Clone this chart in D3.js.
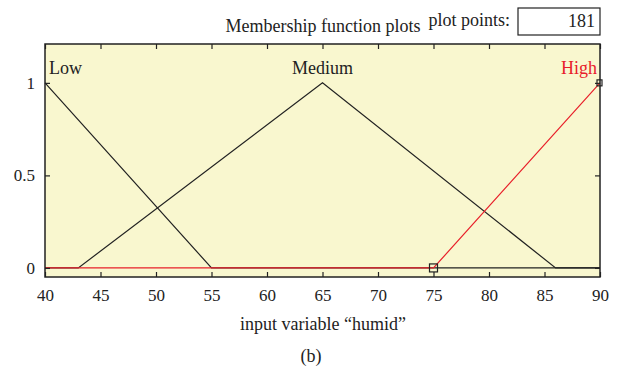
<!DOCTYPE html>
<html>
<head>
<meta charset="utf-8">
<script src="https://cdn.jsdelivr.net/npm/d3@7"></script>
<style>
body { margin: 0; background: #fff; }
text { font-family: "Liberation Serif", "DejaVu Serif", serif; }
</style>
</head>
<body>
<script>
// data
var xTicks = [40, 45, 50, 55, 60, 65, 70, 75, 80, 85, 90];
var yTicks = [0, 0.5, 1];
var mfNames = ["Low", "Medium", "High"];
var lowPts = [[40, 1], [55, 0], [90, 0]];
var mediumPts = [[40, 0], [43, 0], [65, 1], [86, 0], [90, 0]];
var highPts = [[40, 0], [75, 0], [90, 1]];
var plotPoints = 181;

var width = 619, height = 372;
var margin = {top: 44, right: 19, bottom: 95, left: 45};
var fs = 18;

var svg = d3.select("body").append("svg")
  .attr("width", width)
  .attr("height", height);

var x = d3.scaleLinear().domain([40, 90]).range([margin.left, width - margin.right]);
var y = d3.scaleLinear().domain([-0.049, 1.21]).range([height - margin.bottom, margin.top]);

var plotBottom = height - margin.bottom, plotTop = margin.top;

// plot background
svg.append("rect")
  .attr("x", x(40)).attr("y", plotTop)
  .attr("width", x(90) - x(40)).attr("height", plotBottom - plotTop)
  .attr("fill", "#f9f7cf");

var line = d3.line().x(function(d){ return x(d[0]); }).y(function(d){ return y(d[1]); });

svg.append("path").datum(lowPts).attr("d", line)
  .attr("fill", "none").attr("stroke", "#222").attr("stroke-width", 1.2);
svg.append("path").datum(mediumPts).attr("d", line)
  .attr("fill", "none").attr("stroke", "#222").attr("stroke-width", 1.2);
svg.append("path").datum(highPts).attr("d", line)
  .attr("fill", "none").attr("stroke", "#e8202a").attr("stroke-width", 1.2);

// selected mf markers
svg.append("rect").attr("x", x(75) - 4).attr("y", y(0) - 4).attr("width", 8).attr("height", 8)
  .attr("fill", "none").attr("stroke", "#222").attr("stroke-width", 1.2);
svg.append("rect").attr("x", x(90) - 3).attr("y", y(1) - 3).attr("width", 5).attr("height", 6)
  .attr("fill", "none").attr("stroke", "#222").attr("stroke-width", 1.2);

// axes (ticks pointing inward on all four sides)
svg.append("g")
  .attr("transform", "translate(0," + plotBottom + ")")
  .call(d3.axisBottom(x).tickValues(xTicks).tickSizeInner(-5).tickSizeOuter(0).tickPadding(12))
  .call(function(g){ g.select(".domain").remove(); });
svg.append("g")
  .attr("transform", "translate(0," + plotTop + ")")
  .call(d3.axisTop(x).tickValues(xTicks).tickSizeInner(-5).tickSizeOuter(0).tickFormat(""))
  .call(function(g){ g.select(".domain").remove(); });
svg.append("g")
  .attr("transform", "translate(" + margin.left + ",0)")
  .call(d3.axisLeft(y).tickValues(yTicks).tickSizeInner(-5).tickSizeOuter(0).tickPadding(10).tickFormat(d3.format("")))
  .call(function(g){ g.select(".domain").remove(); });
svg.append("g")
  .attr("transform", "translate(" + (width - margin.right) + ",0)")
  .call(d3.axisRight(y).tickValues(yTicks).tickSizeInner(-5).tickSizeOuter(0).tickFormat(""))
  .call(function(g){ g.select(".domain").remove(); });

svg.selectAll(".tick line").attr("stroke", "#222").attr("stroke-width", 1.2);
svg.selectAll(".tick text").attr("font-size", 17).attr("fill", "#222")
  .style("font-family", '"Liberation Serif", serif');

svg.append("rect")
  .attr("x", x(40)).attr("y", plotTop)
  .attr("width", x(90) - x(40)).attr("height", plotBottom - plotTop)
  .attr("fill", "none").attr("stroke", "#222").attr("stroke-width", 1.5);

// mf labels
svg.append("text").attr("x", x(40) + 4).attr("y", 74).attr("font-size", fs).attr("fill", "#222").text(mfNames[0]);
svg.append("text").attr("x", x(65)).attr("y", 74).attr("text-anchor", "middle").attr("font-size", fs).attr("fill", "#222").text(mfNames[1]);
svg.append("text").attr("x", x(90) - 3).attr("y", 74).attr("text-anchor", "end").attr("font-size", fs).attr("fill", "#e8202a").text(mfNames[2]);

// header
svg.append("text").attr("x", 323).attr("y", 32).attr("text-anchor", "middle").attr("font-size", fs).attr("fill", "#222")
  .text("Membership function plots");
svg.append("text").attr("x", 510).attr("y", 26).attr("text-anchor", "end").attr("font-size", fs).attr("fill", "#222")
  .text("plot points:");
svg.append("rect").attr("x", 518).attr("y", 8).attr("width", 82).attr("height", 27)
  .attr("fill", "#fff").attr("stroke", "#222").attr("stroke-width", 1.2);
svg.append("text").attr("x", 595).attr("y", 27).attr("text-anchor", "end").attr("font-size", fs).attr("fill", "#222")
  .text(plotPoints);

// axis title and caption
svg.append("text").attr("x", 323).attr("y", 330).attr("text-anchor", "middle").attr("font-size", fs).attr("fill", "#222")
  .text("input variable \u201chumid\u201d");
svg.append("text").attr("x", 311).attr("y", 362).attr("text-anchor", "middle").attr("font-size", fs).attr("fill", "#222")
  .text("(b)");
</script>
</body>
</html>
